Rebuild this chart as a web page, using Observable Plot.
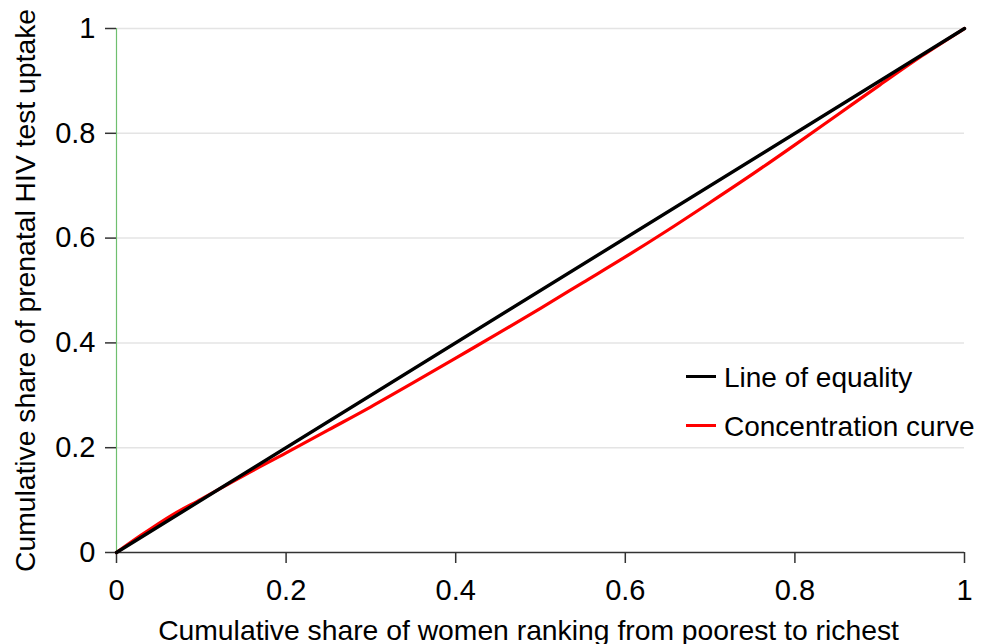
<!DOCTYPE html>
<html>
<head>
<meta charset="utf-8">
<script src="https://cdn.jsdelivr.net/npm/d3@7"></script>
<script src="https://cdn.jsdelivr.net/npm/@observablehq/plot@0.6"></script>
<style>
  body { margin: 0; background: #fff; }
  #wrap { position: relative; width: 992px; height: 644px; font-family: "Liberation Sans", Arial, sans-serif; }
  .leg { position: absolute; left: 686px; font-size: 28px; line-height: normal; color: #000; white-space: nowrap; }
  .sw { position: absolute; left: 0; width: 30px; height: 3px; }
  .lt { position: absolute; left: 38px; top: 0; }
</style>
</head>
<body>
<div id="wrap"></div>
<script>
// ---- data ----
const shareWomen = [0, 0.03, 0.065, 0.1, 0.15, 0.2, 0.25, 0.3, 0.35, 0.4, 0.45, 0.5, 0.55, 0.6, 0.65, 0.7, 0.75, 0.8, 0.85, 0.9, 0.95, 1];
const concentrationShare = [0, 0.034, 0.071, 0.102, 0.147, 0.190, 0.234, 0.278, 0.324, 0.371, 0.418, 0.466, 0.515, 0.564, 0.615, 0.668, 0.722, 0.778, 0.835, 0.892, 0.948, 1];
const equalityX = [0, 1];
const equalityY = [0, 1];
const tickValues = [0, 0.2, 0.4, 0.6, 0.8, 1];
const gridValues = [0.2, 0.4, 0.6, 0.8, 1];
const seriesNames = ["Line of equality", "Concentration curve"];
const seriesColors = ["#000000", "#ff0000"];
const xTitle = "Cumulative share of women ranking from poorest to richest";
const yTitle = "Cumulative share of prenatal HIV test uptake";

const concData = shareWomen.map((x, i) => ({x, y: concentrationShare[i]}));
const eqData = equalityX.map((x, i) => ({x, y: equalityY[i]}));
const fmt = d => String(d);

const chart = Plot.plot({
  width: 992,
  height: 644,
  marginLeft: 116,
  marginRight: 28,
  marginTop: 28,
  marginBottom: 92,
  x: {domain: [0, 1]},
  y: {domain: [0, 1]},
  style: {fontFamily: '"Liberation Sans", Arial, sans-serif', fontSize: "28px", color: "#000", background: "#fff", overflow: "visible"},
  marks: [
    Plot.gridY(gridValues, {stroke: "#e4e4e4", strokeOpacity: 1, strokeWidth: 1.5}),
    Plot.ruleX([0], {y1: 0, y2: 1, stroke: "#6fbf6f", strokeWidth: 1.2}),
    Plot.axisY(tickValues, {tickSize: 11, tickPadding: 10, tickFormat: fmt, fontSize: 29, stroke: "#333", strokeWidth: 1.5, label: null}),
    Plot.axisX(tickValues, {tickSize: 11, tickPadding: 16, tickFormat: fmt, fontSize: 29, stroke: "#333", strokeWidth: 1.5, label: null}),
    Plot.ruleY([0], {stroke: "#333", strokeWidth: 1.5}),
    Plot.text([xTitle], {text: d => d, frameAnchor: "bottom", textAnchor: "middle", lineAnchor: "bottom", dx: -12, dy: 87, fontSize: 28.3}),
    Plot.text([yTitle], {text: d => d, frameAnchor: "left", textAnchor: "middle", lineAnchor: "top", rotate: -90, dx: -102, fontSize: 28.3}),
    Plot.line(concData, {x: "x", y: "y", stroke: seriesColors[1], strokeWidth: 3.2, curve: "monotone-x"}),
    Plot.line(eqData, {x: "x", y: "y", stroke: seriesColors[0], strokeWidth: 3.4})
  ]
});

const wrap = document.getElementById("wrap");
wrap.appendChild(chart);

// legend (HTML overlay inside plot area)
const legTops = [362, 411];
seriesNames.forEach((name, i) => {
  const g = document.createElement("div");
  g.className = "leg";
  g.style.top = legTops[i] + "px";
  const sw = document.createElement("div");
  sw.className = "sw";
  sw.style.background = seriesColors[i];
  sw.style.top = "13px";
  const t = document.createElement("div");
  t.className = "lt";
  t.textContent = name;
  g.appendChild(sw);
  g.appendChild(t);
  wrap.appendChild(g);
});
</script>
</body>
</html>
